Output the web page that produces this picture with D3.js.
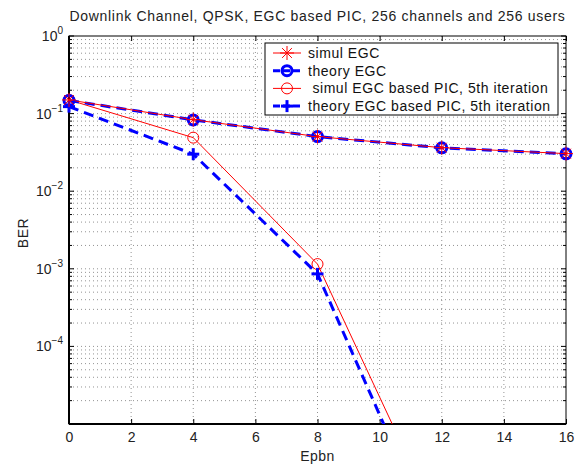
<!DOCTYPE html>
<html><head><meta charset="utf-8">
<script src="https://cdn.jsdelivr.net/npm/d3@7"></script>
<style>body{margin:0;background:#fff}svg{display:block;font-family:"Liberation Sans",Arial,sans-serif}</style>
</head><body><svg id="c" width="582" height="467"></svg>
<script>
const epbn = [0, 4, 8, 12, 16];
const simulEGC = [0.150, 0.0835, 0.0505, 0.0364, 0.0305];
const theoryEGC = [0.148, 0.083, 0.0505, 0.0362, 0.0303];
const simulPIC = [0.150, 0.049, 0.00115, 4.3e-7, null];
const theoryPIC = [0.123, 0.030, 0.00086, 2.0e-7, null];
const xTicks = [0, 2, 4, 6, 8, 10, 12, 14, 16];
const yDecades = [0, -1, -2, -3, -4];
const legendLabels = ["simul EGC", "theory EGC", " simul EGC based PIC, 5th iteration", "theory EGC based PIC, 5th iteration"];

const L = 69, R = 566, T = 36, B = 424;
const FS = 14, LS = "0.55px";
const svg = d3.select("#c");
const x = d3.scaleLinear().domain([0, 16]).range([L, R]);
const y = d3.scaleLog().domain([1e-5, 1]).range([B, T]);

svg.append("defs").append("clipPath").attr("id", "clip")
  .append("rect").attr("x", L).attr("y", T).attr("width", R - L).attr("height", B - T);

// grid
const g = svg.append("g");
xTicks.forEach(t => {
  if (t === 0 || t === 16) return;
  g.append("line").attr("x1", x(t)).attr("x2", x(t)).attr("y1", T).attr("y2", B)
    .attr("stroke", "#777").attr("stroke-width", 0.8).attr("stroke-dasharray", "1,3");
});
for (let e = -5; e < 0; e++) {
  for (let m = 1; m <= 9; m++) {
    const v = m * Math.pow(10, e);
    if (v <= 1e-5 || v >= 1) continue;
    g.append("line").attr("x1", L).attr("x2", R).attr("y1", y(v)).attr("y2", y(v))
      .attr("stroke", "#777").attr("stroke-width", 0.8).attr("stroke-dasharray", "1,3");
  }
}

// axes
const xAxisB = d3.axisBottom(x).tickValues(xTicks).tickSize(-5).tickPadding(8).tickFormat(d3.format("d"));
const xAxisT = d3.axisTop(x).tickValues(xTicks).tickSize(-5).tickFormat("");
const minor = [];
for (let e = -5; e < 0; e++) for (let m = 1; m <= 9; m++) minor.push(m * Math.pow(10, e));
minor.push(1);
function styleAx(sel) {
  sel.select(".domain").remove();
  sel.selectAll("line").attr("stroke", "#000").attr("stroke-width", 1);
  sel.selectAll("text").attr("font-size", FS).attr("fill", "#222").attr("font-family", "Liberation Sans, Arial, sans-serif");
}
svg.append("g").attr("transform", `translate(0,${B})`).call(xAxisB).call(styleAx);
svg.append("g").attr("transform", `translate(0,${T})`).call(xAxisT).call(styleAx);

// y ticks (major and minor, both sides)
minor.forEach(v => {
  const major = Math.abs(Math.log10(v) - Math.round(Math.log10(v))) < 1e-9;
  const len = major ? 5 : 3;
  svg.append("line").attr("x1", L).attr("x2", L + len).attr("y1", y(v)).attr("y2", y(v)).attr("stroke", "#000");
  svg.append("line").attr("x1", R).attr("x2", R - len).attr("y1", y(v)).attr("y2", y(v)).attr("stroke", "#000");
});
yDecades.forEach(e => {
  const t = svg.append("text").attr("x", L - 6).attr("y", y(Math.pow(10, e)) + 5)
    .attr("text-anchor", "end").attr("font-size", FS).attr("fill", "#222");
  t.append("tspan").text("10");
  t.append("tspan").attr("font-size", 10).attr("dy", -7).text(String(e).replace("-", "\u2212"));
});

// frame
svg.append("rect").attr("x", L).attr("y", T).attr("width", R - L).attr("height", B - T)
  .attr("fill", "none").attr("stroke", "#000").attr("stroke-width", 1);
svg.append("line").attr("x1", L).attr("x2", R).attr("y1", B).attr("y2", B).attr("stroke", "#000").attr("stroke-width", 2);
svg.append("line").attr("x1", L).attr("x2", L).attr("y1", T).attr("y2", B).attr("stroke", "#000").attr("stroke-width", 2);

// series
const plot = svg.append("g").attr("clip-path", "url(#clip)");
const line = d3.line().defined(d => d[1] != null).x(d => x(d[0])).y(d => y(d[1]));
function pts(vals) { return epbn.map((e, i) => [e, vals[i]]); }

const series = [
  {vals: simulEGC, color: "#ff0000", w: 1, dash: null, marker: "star"},
  {vals: theoryEGC, color: "#0000ff", w: 3, dash: "10,6", marker: "circleB"},
  {vals: simulPIC, color: "#ff0000", w: 1, dash: null, marker: "circleR"},
  {vals: theoryPIC, color: "#0000ff", w: 3, dash: "10,6", marker: "plus"}
];

function drawMarker(gs, type, cx, cy) {
  if (type === "star") {
    const r = 7;
    [[r,0],[0,r],[r*0.7,r*0.7],[r*0.7,-r*0.7]].forEach(([dx,dy]) =>
      gs.append("line").attr("x1", cx-dx).attr("x2", cx+dx).attr("y1", cy-dy).attr("y2", cy+dy)
        .attr("stroke", "#ff0000").attr("stroke-width", 1));
  } else if (type === "circleB") {
    gs.append("circle").attr("cx", cx).attr("cy", cy).attr("r", 5).attr("fill", "none")
      .attr("stroke", "#0000ff").attr("stroke-width", 3);
  } else if (type === "circleR") {
    gs.append("circle").attr("cx", cx).attr("cy", cy).attr("r", 5.5).attr("fill", "none")
      .attr("stroke", "#ff0000").attr("stroke-width", 1);
  } else if (type === "plus") {
    const r = 6;
    gs.append("line").attr("x1", cx-r).attr("x2", cx+r).attr("y1", cy).attr("y2", cy).attr("stroke", "#0000ff").attr("stroke-width", 3);
    gs.append("line").attr("x1", cx).attr("x2", cx).attr("y1", cy-r).attr("y2", cy+r).attr("stroke", "#0000ff").attr("stroke-width", 3);
  }
}

const drawOrder = [2, 3, 1, 0];
drawOrder.forEach(i => {
  const s = series[i];
  const p = plot.append("path").datum(pts(s.vals)).attr("d", line).attr("fill", "none")
    .attr("stroke", s.color).attr("stroke-width", s.w);
  if (s.dash) p.attr("stroke-dasharray", s.dash);
});
const mk = svg.append("g");
drawOrder.forEach(i => {
  const s = series[i];
  pts(s.vals).forEach(d => {
    if (d[1] == null || d[1] < 1e-5) return;
    drawMarker(mk, s.marker, x(d[0]), y(d[1]));
  });
});

// legend
const lg = svg.append("g");
const lx = 265, ly = 43, lw = 293, lh = 72;
lg.append("rect").attr("x", lx).attr("y", ly).attr("width", lw).attr("height", lh)
  .attr("fill", "#fff").attr("stroke", "#000").attr("stroke-width", 1);
series.forEach((s, i) => {
  const yy = ly + 10 + i * 17.7;
  const l = lg.append("line").attr("x1", lx + 8).attr("x2", lx + 36).attr("y1", yy).attr("y2", yy)
    .attr("stroke", s.color).attr("stroke-width", s.w);
  if (s.dash) l.attr("stroke-dasharray", "7,3");
  drawMarker(lg, s.marker, lx + 22, yy);
  lg.append("text").attr("x", lx + 43).attr("y", yy + 5).attr("font-size", FS).attr("fill", "#111")
    .attr("letter-spacing", LS)
    .attr("xml:space", "preserve").style("white-space", "pre").text(legendLabels[i]);
});

// titles
svg.append("text").attr("x", (L + R) / 2).attr("y", 21).attr("text-anchor", "middle")
  .attr("font-size", FS).attr("letter-spacing", "0.7px").attr("fill", "#222").text("Downlink Channel, QPSK, EGC based PIC, 256 channels and 256 users");
svg.append("text").attr("x", (L + R) / 2).attr("y", 461).attr("text-anchor", "middle")
  .attr("font-size", FS).attr("letter-spacing", "0.5px").attr("fill", "#222").text("Epbn");
svg.append("text").attr("transform", `translate(28,${(T + B) / 2 + 3}) rotate(-90)`).attr("text-anchor", "middle")
  .attr("font-size", FS).attr("letter-spacing", "0.5px").attr("fill", "#222").text("BER");
</script></body></html>
